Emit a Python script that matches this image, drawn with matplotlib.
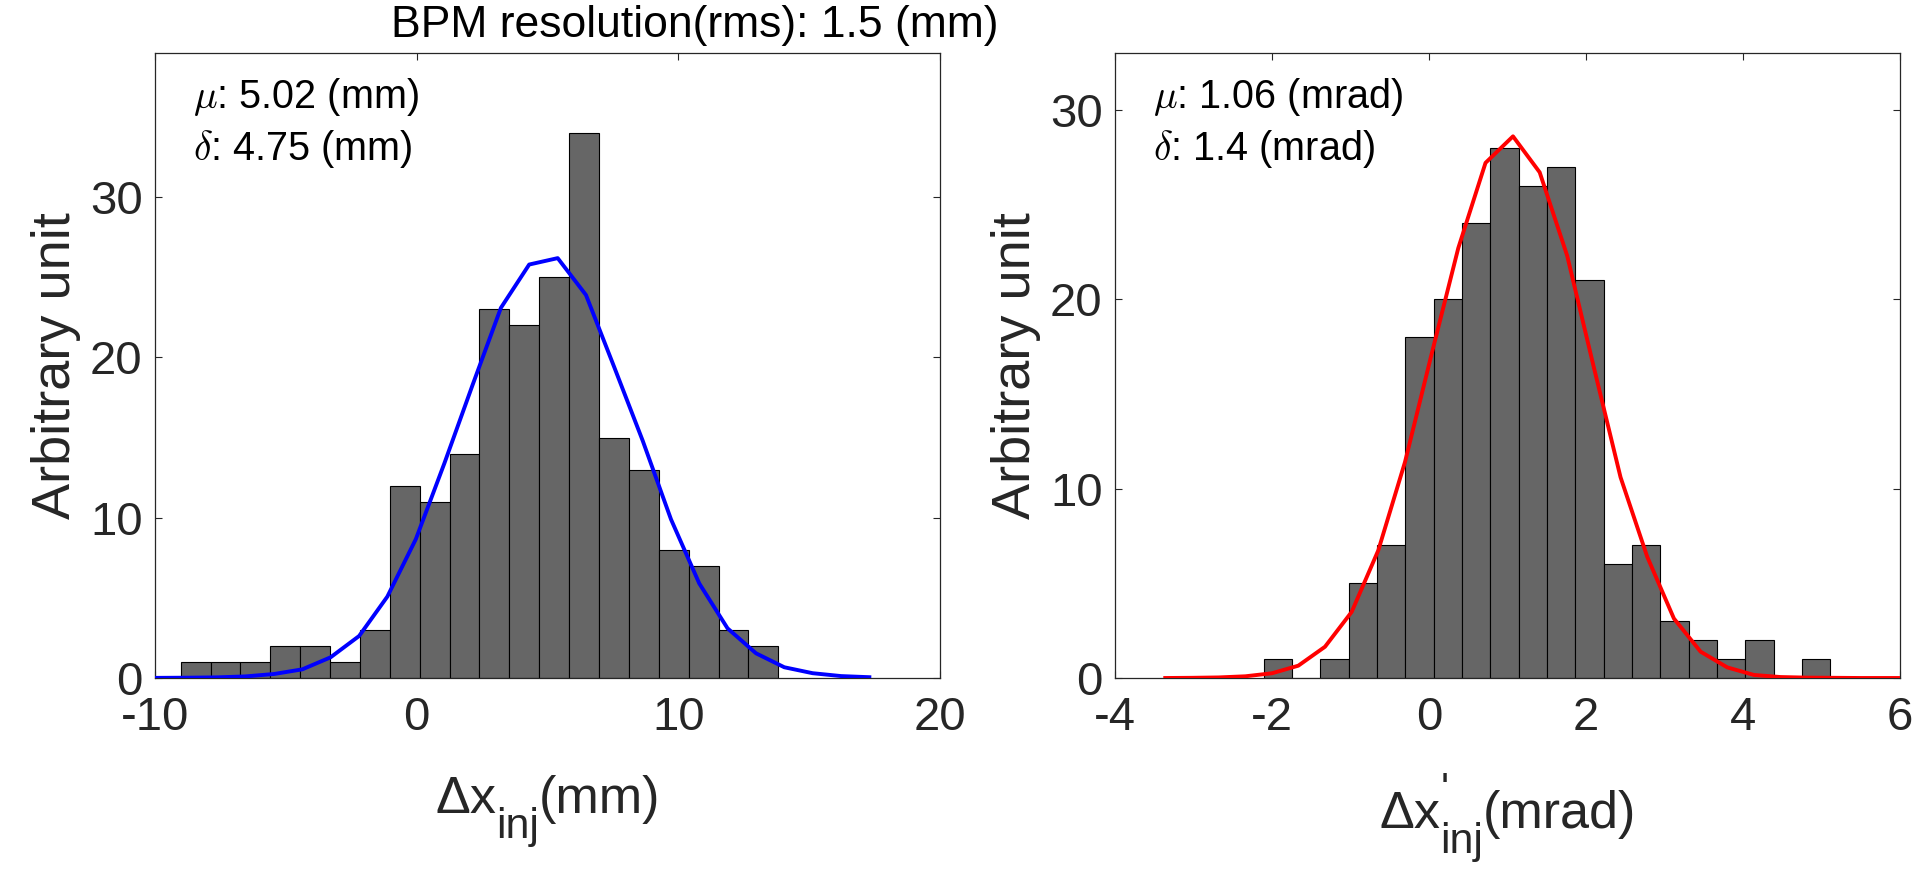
#!/usr/bin/env python3
# BPM resolution: injection offset / angle histograms with gaussian fit

import matplotlib
matplotlib.use('Agg')
import matplotlib.pyplot as plt
import numpy as np

plt.rcParams['font.family'] = ['Liberation Sans', 'DejaVu Sans']
plt.rcParams['axes.unicode_minus'] = False

# ---- data: position offset (mm) ----
x_bin_lo, x_bin_hi = -9.02, 13.82
x_counts = [1, 1, 1, 2, 2, 1, 3, 12, 11, 14, 23, 22, 25, 34, 15, 13, 8, 7, 3, 2]
x_fit_x = [-10.87, -9.79, -8.70, -7.62, -6.54, -5.45, -4.37, -3.29, -2.20, -1.12,
           -0.03, 1.06, 2.14, 3.22, 4.30, 5.39, 6.47, 7.55, 8.64, 9.72,
           10.80, 11.88, 12.97, 14.05, 15.13, 16.22, 17.30]
x_fit_y = [0.0, 0.01, 0.02, 0.04, 0.10, 0.25, 0.54, 1.29, 2.62, 5.08,
           8.67, 13.4, 18.3, 23.1, 25.8, 26.2, 23.9, 19.4, 14.8, 9.9,
           5.9, 3.1, 1.54, 0.67, 0.30, 0.12, 0.05]

# ---- data: angle offset (mrad) ----
xp_bin_lo, xp_bin_hi = -2.106, 5.111
xp_counts = [1, 0, 1, 5, 7, 18, 20, 24, 28, 26, 27, 21, 6, 7, 3, 2, 1, 2, 0, 1]
xp_fit_x = [-3.36, -3.02, -2.68, -2.34, -2.00, -1.665, -1.325, -0.985, -0.646, -0.306,
            0.033, 0.373, 0.72, 1.07, 1.41, 1.76, 2.10, 2.44, 2.78, 3.12,
            3.46, 3.80, 4.14, 4.48, 4.82, 5.16, 5.50, 5.84, 6.18]
xp_fit_y = [0.0, 0.01, 0.03, 0.09, 0.25, 0.65, 1.65, 3.49, 6.74, 11.4,
            17.1, 22.7, 27.2, 28.6, 26.7, 22.3, 16.4, 10.6, 6.4, 3.14,
            1.39, 0.56, 0.16, 0.05, 0.02, 0.01, 0.0, 0.0, 0.0]

title_txt = 'BPM resolution(rms): 1.5 (mm)'
ylab = 'Arbitrary unit'

axis_gray = '#262626'
W, H = 1920, 882


def hist_panel(ax, lo, hi, counts, fx, fy, color, xlim, ylim, xticks, yticks,
               mu_txt, sig_txt):
    edges = np.linspace(lo, hi, len(counts) + 1)
    ax.bar(edges[:-1], counts, width=np.diff(edges), align='edge',
           color='#666666', edgecolor='black', linewidth=0.8, zorder=2)
    ax.plot(fx, fy, color=color, linewidth=2.8, zorder=3)
    ax.set_xlim(*xlim)
    ax.set_ylim(*ylim)
    ax.set_xticks(xticks)
    ax.set_yticks(yticks)
    ax.tick_params(direction='in', length=5, width=0.8, top=True, right=True,
                   labelsize=34, colors=axis_gray)
    ax.tick_params(axis='x', pad=13)
    ax.tick_params(axis='y', pad=9)
    for s in ax.spines.values():
        s.set_color(axis_gray)
        s.set_linewidth(0.9)
    ax.set_ylabel(ylab, fontsize=39, color=axis_gray, labelpad=6)
    ax.text(0.048, 0.912, mu_txt, transform=ax.transAxes, fontsize=28.5,
            math_fontfamily='cm', va='baseline')
    ax.text(0.048, 0.829, sig_txt, transform=ax.transAxes, fontsize=28.5,
            math_fontfamily='cm', va='baseline')


def axis_label(ax, cx, base_y, unit, prime=False):
    # Δx with big tex-style subscript "inj" (and optional prime), then unit
    fs_main, fs_sub = 37.5, 31
    kw = dict(color=axis_gray, annotation_clip=False)
    t0 = ax.figure.text(cx / W, 1 - base_y / H, 'Δx', fontsize=fs_main,
                        color=axis_gray, va='baseline')
    if prime:
        ax.annotate("'", xy=(1, 0), xycoords=t0, xytext=(0.5, 27),
                    textcoords='offset points', fontsize=fs_sub,
                    va='baseline', **kw)
    t_sub = ax.annotate('inj', xy=(1, 0), xycoords=t0, xytext=(0, -10),
                        textcoords='offset points', fontsize=fs_sub,
                        va='baseline', **kw)
    t_unit = ax.annotate(unit, xy=(1, 0), xycoords=(t_sub, t0),
                         fontsize=fs_main, va='bottom', **kw)
    return t0, t_unit


fig = plt.figure(figsize=(W / 100, H / 100), dpi=100)
ax1 = fig.add_axes([155 / W, 204 / H, 785 / W, 625 / H])
ax2 = fig.add_axes([1115 / W, 204 / H, 785 / W, 625 / H])

hist_panel(ax1, x_bin_lo, x_bin_hi, x_counts, x_fit_x, x_fit_y, 'blue',
           (-10, 20), (0, 39), [-10, 0, 10, 20], [0, 10, 20, 30],
           r'$\mu$: 5.02 (mm)', r'$\delta$: 4.75 (mm)')
hist_panel(ax2, xp_bin_lo, xp_bin_hi, xp_counts, xp_fit_x, xp_fit_y, 'red',
           (-4, 6), (0, 33), [-4, -2, 0, 2, 4, 6], [0, 10, 20, 30],
           r'$\mu$: 1.06 (mrad)', r'$\delta$: 1.4 (mrad)')

labels = [axis_label(ax1, 425, 813, '(mm)', prime=False),
          axis_label(ax2, 1370, 828, '(mrad)', prime=True)]
centers = [548, 1508]

fig.text(695 / W, 1 - 37 / H, title_txt, fontsize=32, ha='center',
         va='baseline')

# center the composed x labels under their axes
fig.canvas.draw()
r = fig.canvas.get_renderer()
for (t0, t_end), c in zip(labels, centers):
    x0 = t0.get_window_extent(r).x0
    x1 = t_end.get_window_extent(r).x1
    shift = c - (x0 + x1) / 2
    px, py = t0.get_position()
    t0.set_position((px + shift / W, py))

fig.savefig('out.png', dpi=100, facecolor='white')
